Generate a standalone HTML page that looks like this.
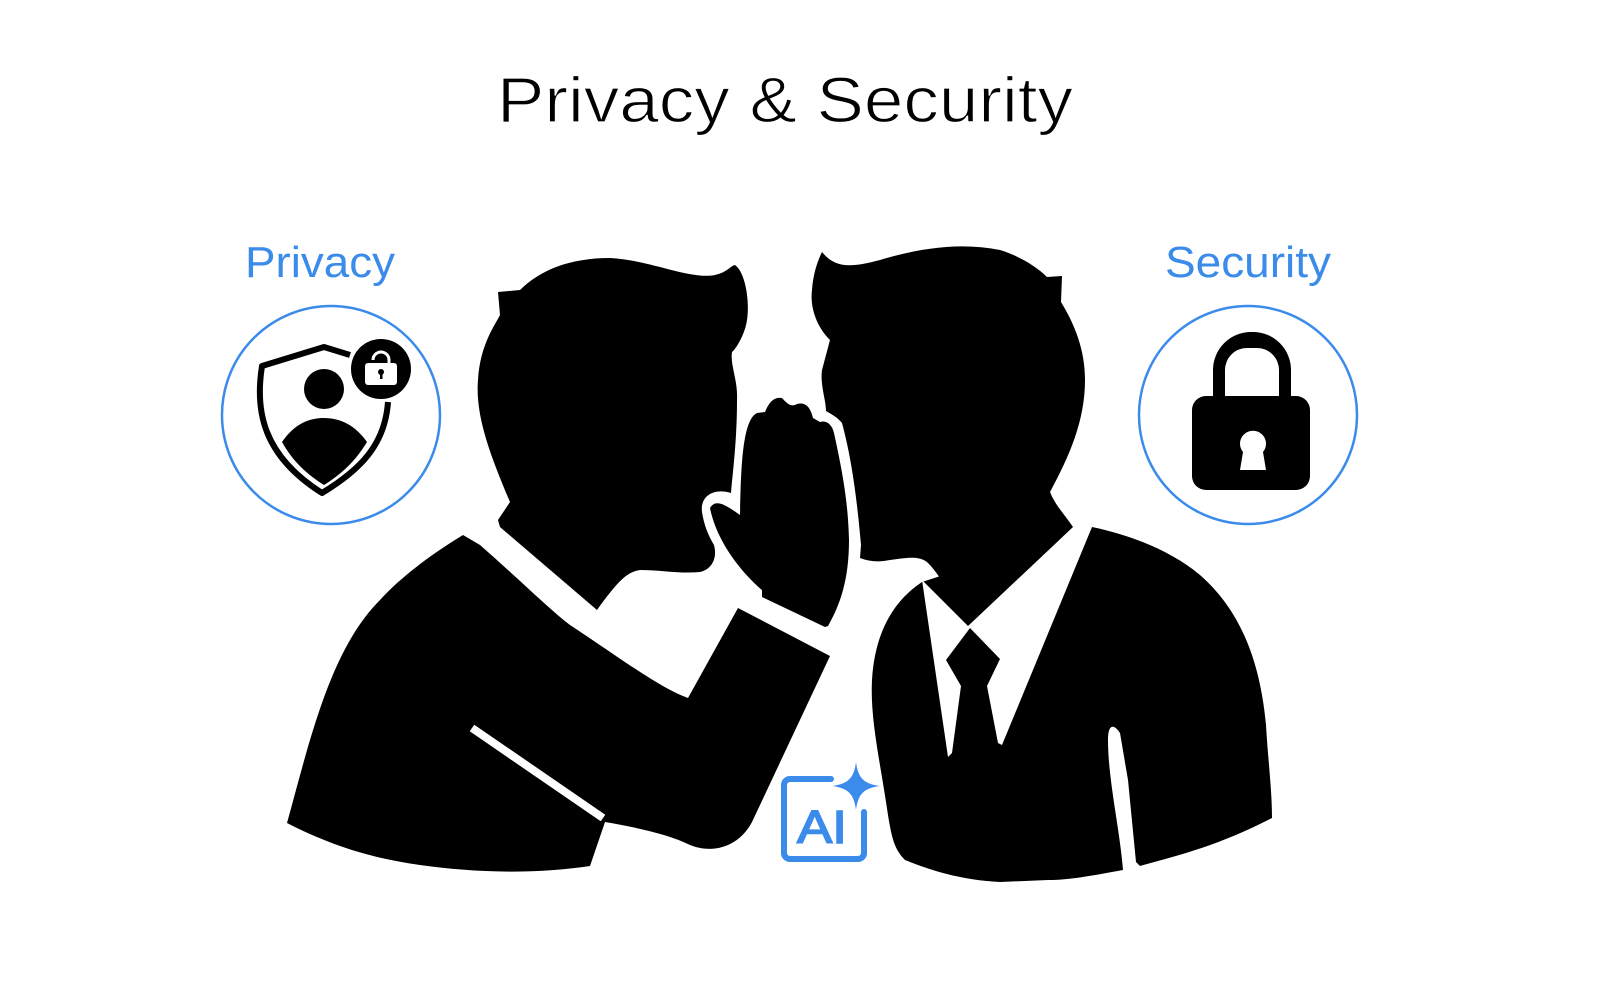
<!DOCTYPE html>
<html><head><meta charset="utf-8"><style>
html,body{margin:0;padding:0;background:#fff;width:1600px;height:1000px;overflow:hidden}
svg{display:block}
</style></head><body>
<svg width="1600" height="1000" viewBox="0 0 1600 1000" xmlns="http://www.w3.org/2000/svg">
<text x="785" y="122" text-anchor="middle" font-family="Liberation Sans, sans-serif" font-size="64" fill="#000" stroke="#fff" stroke-width="1.2" textLength="576" lengthAdjust="spacingAndGlyphs">Privacy &amp; Security</text>
<text x="320" y="277" text-anchor="middle" font-family="Liberation Sans, sans-serif" font-size="44" fill="#3b8beb" textLength="150" lengthAdjust="spacingAndGlyphs">Privacy</text>
<text x="1248" y="277" text-anchor="middle" font-family="Liberation Sans, sans-serif" font-size="44" fill="#3b8beb" textLength="166" lengthAdjust="spacingAndGlyphs">Security</text>
<circle cx="331" cy="415" r="109" fill="none" stroke="#3b8beb" stroke-width="2.5"/>
<circle cx="1248" cy="415" r="109" fill="none" stroke="#3b8beb" stroke-width="2.5"/>
<!-- privacy icon -->
<path d="M350,355 L324,347 L262,366 C255,410 262,455 322,493 C360,470 385,445 388,402" fill="none" stroke="#000" stroke-width="6" stroke-linejoin="round"/>
<circle cx="324" cy="389" r="20" fill="#000"/>
<path d="M282,442 C295,423 310,418 324,418 C340,418 355,425 367,442 C355,462 340,475 324,485 C308,475 293,462 282,442 Z" fill="#000"/>
<circle cx="381" cy="369" r="30" fill="#000"/>
<path d="M373,360 a8,8 0 0 1 16,0 v5" fill="none" stroke="#fff" stroke-width="3"/>
<rect x="365" y="363" width="32" height="22" rx="3" fill="#fff"/>
<circle cx="381" cy="372" r="3" fill="#000"/><rect x="380" y="372" width="2.5" height="7" fill="#000"/>
<!-- security icon -->
<path d="M1213,398 V370 a38,38 0 0 1 38,-38 h2 a38,38 0 0 1 38,38 V398 h-12 V370 a22,22 0 0 0 -22,-22 h-10 a22,22 0 0 0 -22,22 V398 Z" fill="#000"/>
<path d="M1192,410 a14,14 0 0 1 14,-14 h90 a14,14 0 0 1 14,14 v66 a14,14 0 0 1 -14,14 h-90 a14,14 0 0 1 -14,-14 Z" fill="#000"/>
<path d="M1243,452 a13,13 0 1 1 20,0 l3,18 h-26 Z" fill="#fff"/>
<!-- left man -->
<path d="M498,292 L520,290 C540,270 570,258 610,258 C650,260 690,280 715,275 C728,272 730,266 735,265 C745,272 750,300 747,320 C745,335 735,350 732,352 C730,365 738,380 737,400 C737,440 733,470 731,493 C715,488 700,495 702,512 C704,525 708,535 714,545 C718,560 710,570 700,572 C680,574 660,570 640,570 C628,572 620,578 597,610 L500,527 L498,520 L510,502 C490,455 475,415 478,380 C480,345 495,325 500,315 Z" fill="#000"/>
<path d="M463,535 L480,545 C520,580 550,610 570,625 C620,658 660,688 688,698 L738,608 L830,656 L752,822 C740,845 715,855 690,845 C670,835 640,828 605,822 L590,866 C530,875 470,872 420,865 C370,858 330,845 287,823 C310,740 330,650 380,600 C400,578 430,555 463,535 Z" fill="#000"/>
<path d="M472,728 L603,818" stroke="#fff" stroke-width="8"/>
<path d="M740,515 C741,470 742,420 757,413 L765,412 C770,400 775,397 782,398 C786,402 790,408 797,404 C805,402 810,406 813,418 L820,422 C826,420 832,424 834,433 C842,470 848,500 849,540 C849,580 840,605 828,626 L825,627 L762,597 L762,590 C750,580 718,548 710,508 C715,500 722,502 740,515 Z" fill="#000"/>
<!-- right man -->
<path d="M1092,527 C1130,535 1170,550 1200,575 C1240,610 1260,660 1266,725 C1268,760 1272,790 1272,818 C1220,845 1180,855 1140,866 L1136,862 L1128,780 L1120,733 C1115,725 1108,722 1108,740 C1108,780 1120,830 1123,870 C1090,876 1070,880 1048,880 L1000,882 C960,880 930,870 905,860 C895,850 892,840 888,815 C880,760 870,720 872,680 C875,630 895,600 922,582 Z" fill="#000"/>
<polygon points="922,580 968,626 1075,525 1092,527 1002,745 948,757" fill="#fff"/>
<polygon points="946,660 970,628 1000,659 987,686 998,743 1002,745 1000,760 950,760 948,757 952,753 961,686" fill="#000"/>
<path d="M822,252 C835,268 850,268 880,260 C920,248 960,242 1000,250 C1025,258 1040,270 1047,277 L1062,276 L1061,302 C1075,325 1085,350 1085,380 C1085,420 1070,455 1050,492 C1055,505 1065,515 1073,527 L972,622 L968,625 C955,608 945,580 928,563 C920,555 905,558 890,560 C880,562 870,562 860,558 L861,545 C857,500 852,460 842,423 C838,418 833,415 826,411 C826,400 820,385 822,370 L830,340 C815,325 810,305 812,290 C813,275 817,262 822,252 Z" fill="#000"/>
<!-- AI icon -->
<path d="M831,779 H790 a6,6 0 0 0 -6,6 V853 a6,6 0 0 0 6,6 H858 a6,6 0 0 0 6,-6 V812" fill="none" stroke="#3b8beb" stroke-width="6" stroke-linecap="round"/>
<path d="M856,762 C858,778 864,784 880,786 C864,788 858,794 856,810 C854,794 848,788 832,786 C848,784 854,778 856,762 Z" fill="#3b8beb"/>
<text x="822" y="843" text-anchor="middle" font-family="Liberation Sans, sans-serif" font-size="46" fill="#3b8beb" stroke="#3b8beb" stroke-width="1.5" textLength="50" lengthAdjust="spacingAndGlyphs">AI</text>
</svg>
</body></html>
